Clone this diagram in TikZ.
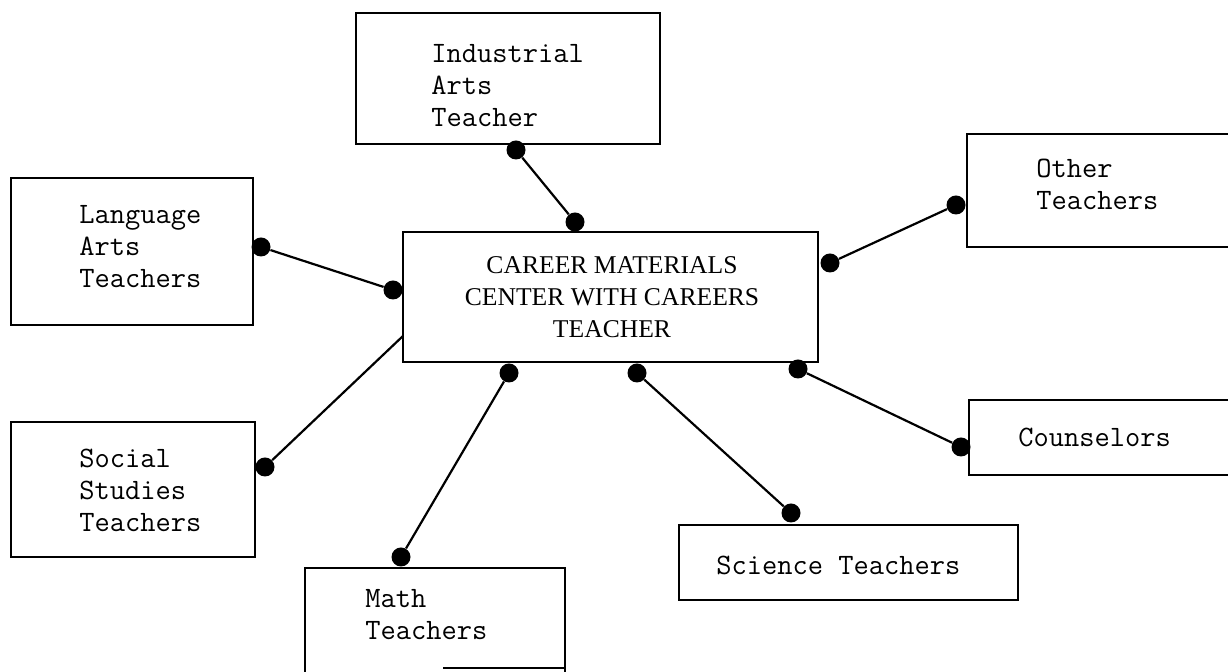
\documentclass[tikz,border=0pt]{standalone}
\usepackage{fontspec}
\newfontfamily\ctrfont{Liberation Serif}
\usetikzlibrary{fit}
\tikzset{
  box/.style={draw, line width=1.4pt, inner sep=0pt, fit={#1}},
  lbl/.style={anchor=base west, align=left, inner sep=0pt,
    font=\fontsize{14.8}{16}\selectfont\ttfamily\addfontfeatures{FakeBold=0.5}},
  ctrlbl/.style={anchor=base, align=center, inner sep=0pt,
    font=\fontsize{12.8}{16}\selectfont\ctrfont},
  dot/.style={circle, fill=black, inner sep=0pt, minimum size=9.5pt},
  link/.style={line width=1.1pt},
}
\begin{document}
\begin{tikzpicture}[x=0.5pt,y=-0.5pt]
\useasboundingbox (0,0) rectangle (1228,672);

% boxes
\node[box={(356,13) (660,144)}]   (ind)   {};
\node[box={(11,178) (253,325)}]   (lang)  {};
\node[box={(403,232) (818,362)}]  (ctr)   {};
\node[box={(967,134) (1240,247)}] (other) {};
\node[box={(11,422) (255,557)}]   (soc)   {};
\node[box={(305,568) (565,700)}]  (math)  {};
\node[box={(679,525) (1018,600)}] (sci)   {};
\node[box={(969,400) (1240,475)}] (couns) {};
% the visible piece of the lower edge of the math box
\draw[line width=1pt] (443,668) -- (math.east |- 0,668);

% labels (anchored on the baseline of their last line)
\node[lbl] (indt)   at (431,127)  {Industrial\\Arts\\Teacher};
\node[lbl] (langt)  at (79,288)   {Language\\Arts\\Teachers};
\node[lbl] (soct)   at (79,532)   {Social\\Studies\\Teachers};
\node[lbl] (matht)  at (365,640)  {Math\\Teachers};
\node[lbl] (othert) at (1036,210) {Other\\Teachers};
\node[lbl] (counst) at (1018,447) {Counselors};
\node[lbl] (scit)   at (716,575)  {Science Teachers};
\node[ctrlbl] (ctrt) at (612,338) {CAREER MATERIALS\\CENTER WITH CAREERS\\TEACHER};

% connector dots
\node[dot] (i1)  at (516,150) {};
\node[dot] (c1)  at (575,222) {};
\node[dot] (l1)  at (261,247) {};
\node[dot] (c2)  at (393,290) {};
\node[dot] (o1)  at (956,205) {};
\node[dot] (c3)  at (830,263) {};
\node[dot] (s1)  at (265,467) {};
\coordinate (c7) at (403,336);
\node[dot] (c4)  at (509,373) {};
\node[dot] (m1)  at (401,557) {};
\node[dot] (c5)  at (637,373) {};
\node[dot] (sc1) at (791,513) {};
\node[dot] (c6)  at (798,369) {};
\node[dot] (co1) at (961,447) {};

% connectors
\draw[link] (i1) -- (c1);
\draw[link] (l1) -- (c2);
\draw[link] (o1) -- (c3);
\draw[link] (s1) -- (c7);
\draw[link] (c4) -- (m1);
\draw[link] (c5) -- (sc1);
\draw[link] (c6) -- (co1);
\end{tikzpicture}
\end{document}
